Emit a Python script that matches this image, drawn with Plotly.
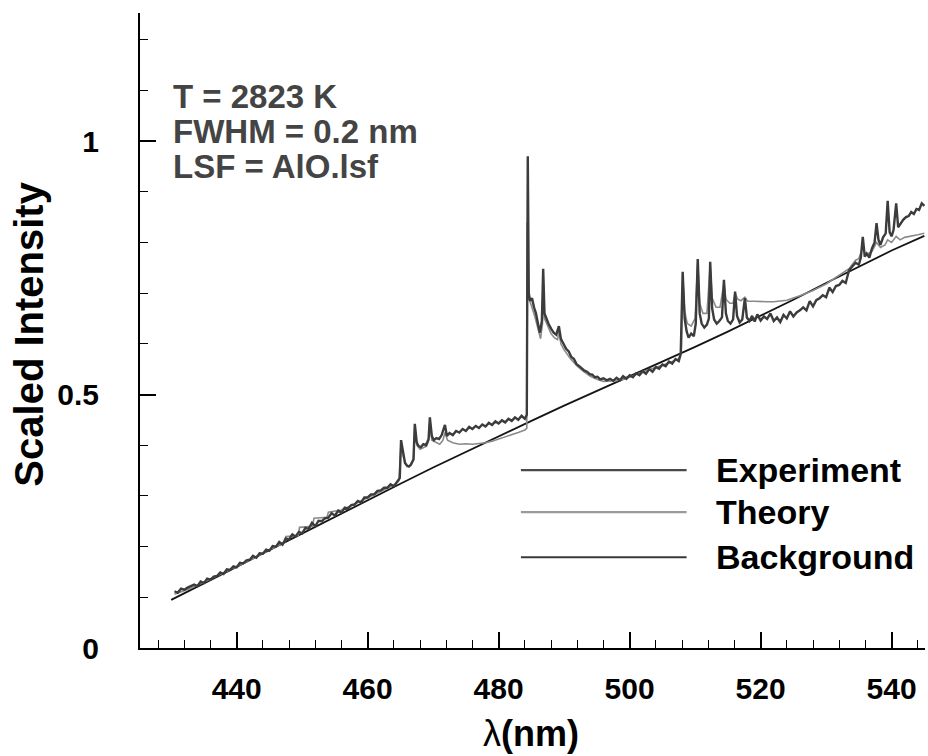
import plotly.graph_objects as go

# ---------------- data ----------------
bg_wl = [430, 435, 440, 445, 450, 455, 460, 465, 470, 475, 480, 485,
         490, 495, 500, 505, 510, 515, 520, 525, 530, 535, 540, 545]
bg_val = [0.095, 0.127, 0.160, 0.193, 0.226, 0.259, 0.292, 0.324, 0.356, 0.387, 0.418, 0.448,
          0.478, 0.507, 0.535, 0.564, 0.594, 0.624, 0.655, 0.687, 0.720, 0.752, 0.784, 0.813]

exp_wl = [
    430.5, 431, 431.5, 432, 432.5, 433, 433.5, 434, 434.5, 435,
    435.5, 436, 436.5, 437, 437.5, 438, 438.5, 439, 439.5, 440,
    440.5, 441, 441.5, 442, 442.5, 443, 443.5, 444, 444.5, 445,
    445.5, 446, 446.5, 447, 447.5, 448, 448.5, 449, 449.5, 450,
    450.5, 451, 451.5, 452, 452.5, 453, 453.5, 454, 454.5, 455,
    455.5, 456, 456.5, 457, 457.5, 458, 458.5, 459, 459.5, 460,
    460.5, 461, 461.5, 462, 462.5, 463, 463.5, 464, 464.5,
    464.9, 465.1, 465.4, 465.7, 466.0, 466.3, 466.6, 467.0, 467.2, 467.5,
    467.8, 468.1, 468.5, 468.9, 469.3, 469.5, 469.8, 470.1, 470.5, 470.9,
    471.3, 471.8, 472.1, 472.5, 473, 473.5, 474, 474.5, 475, 475.5,
    476, 476.5, 477, 477.5, 478, 478.5, 479, 479.5, 480, 480.5,
    481, 481.5, 482, 482.5, 483, 483.5, 484, 484.3,
    484.45, 484.6, 484.8, 485.1, 485.4, 485.7, 486.0, 486.3, 486.6, 486.8,
    487.0, 487.3, 487.6, 488.0, 488.4, 488.8, 489.2, 489.5, 489.9, 490.3,
    490.7, 491.1, 491.5, 491.9, 492.3, 492.7, 493.1, 493.5, 493.9, 494.3,
    494.7, 495.1, 495.5, 496, 496.5, 497, 497.5, 498, 498.5, 499,
    499.5, 500, 500.5, 501, 501.5, 502, 502.5, 503, 503.5, 504,
    504.5, 505, 505.5, 506, 506.5, 507, 507.5, 507.8,
    508.1, 508.4, 508.7, 509.0, 509.4, 509.8, 510.1, 510.4, 510.7, 511.0,
    511.4, 511.8, 512.1, 512.3, 512.6, 512.9, 513.3, 513.7, 514.1, 514.4,
    514.7, 515.0, 515.4, 515.8, 516.1, 516.4, 516.8, 517.2, 517.6, 517.9,
    518.3, 518.7, 519.1, 519.5, 520, 520.5, 521, 521.5, 522, 522.5,
    523, 523.5, 524, 524.5, 525, 525.5, 526, 526.5, 527, 527.5,
    528, 528.5, 529, 529.5, 530, 530.5, 531, 531.5, 532, 532.5,
    533, 533.5, 534, 534.5, 535, 535.3, 535.6, 535.9, 536.2, 536.6,
    537, 537.4, 537.7, 538, 538.3, 538.7, 539.1, 539.4, 539.7, 540,
    540.3, 540.7, 541, 541.4, 541.8, 542.2, 542.6, 543, 543.4, 543.8,
    544.2, 544.6, 545]
exp_val = [
    0.112, 0.109, 0.117, 0.115, 0.119, 0.122, 0.125, 0.122, 0.131, 0.128,
    0.137, 0.135, 0.141, 0.142, 0.149, 0.146, 0.155, 0.154, 0.161, 0.159,
    0.168, 0.167, 0.173, 0.174, 0.182, 0.178, 0.187, 0.186, 0.194, 0.192,
    0.201, 0.200, 0.209, 0.204, 0.216, 0.214, 0.224, 0.220, 0.229, 0.226,
    0.237, 0.235, 0.247, 0.240, 0.251, 0.250, 0.256, 0.257, 0.266, 0.261,
    0.271, 0.267, 0.277, 0.275, 0.282, 0.283, 0.290, 0.287, 0.297, 0.297,
    0.303, 0.303, 0.310, 0.311, 0.316, 0.316, 0.323, 0.319, 0.329,
    0.335, 0.410, 0.385, 0.365, 0.360, 0.358, 0.362, 0.372, 0.442, 0.405,
    0.398, 0.396, 0.402, 0.400, 0.412, 0.455, 0.418, 0.410, 0.414, 0.412,
    0.420, 0.440, 0.418, 0.424, 0.420, 0.428, 0.425, 0.432, 0.428, 0.436,
    0.432, 0.438, 0.434, 0.441, 0.437, 0.444, 0.440, 0.447, 0.443, 0.449,
    0.445, 0.452, 0.448, 0.455, 0.450, 0.458, 0.452, 0.460,
    0.970, 0.700, 0.685, 0.690, 0.672, 0.660, 0.640, 0.622, 0.645, 0.748,
    0.660, 0.648, 0.640, 0.630, 0.622, 0.618, 0.635, 0.610, 0.600, 0.590,
    0.585, 0.574, 0.570, 0.560, 0.556, 0.552, 0.547, 0.545, 0.540, 0.539,
    0.534, 0.535, 0.530, 0.532, 0.528, 0.531, 0.527, 0.533, 0.528, 0.536,
    0.531, 0.538, 0.534, 0.542, 0.538, 0.546, 0.541, 0.550, 0.545, 0.554,
    0.551, 0.559, 0.556, 0.565, 0.561, 0.570, 0.566, 0.580,
    0.742, 0.650, 0.625, 0.612, 0.620, 0.615, 0.640, 0.767, 0.660, 0.640,
    0.632, 0.638, 0.650, 0.762, 0.670, 0.648, 0.640, 0.645, 0.652, 0.726,
    0.660, 0.645, 0.640, 0.648, 0.703, 0.655, 0.642, 0.648, 0.690, 0.652,
    0.645, 0.655, 0.644, 0.658, 0.646, 0.654, 0.649, 0.660, 0.645, 0.652,
    0.643, 0.657, 0.650, 0.664, 0.654, 0.662, 0.666, 0.672, 0.666, 0.684,
    0.674, 0.686, 0.690, 0.696, 0.692, 0.711, 0.702, 0.714, 0.716, 0.724,
    0.720, 0.745, 0.752, 0.760, 0.756, 0.770, 0.811, 0.772, 0.778, 0.770,
    0.788, 0.800, 0.838, 0.805, 0.795, 0.810, 0.818, 0.882, 0.820, 0.812,
    0.825, 0.877, 0.830, 0.838, 0.845, 0.850, 0.852, 0.860, 0.856, 0.866,
    0.864, 0.877, 0.872]

th_wl = [
    430.5, 433, 436, 439, 442, 445, 447.3, 447.5, 449.4, 449.6,
    451.6, 451.8, 453.8, 454, 456, 458, 460, 462, 464, 464.8,
    465.1, 465.5, 466, 466.6, 467, 467.2, 467.5, 468, 469, 469.3,
    469.5, 469.8, 470.5, 471, 471.5, 471.8, 472.2, 473, 474, 475,
    476, 477, 478, 479, 480, 481, 482, 483, 484, 484.3,
    484.35, 484.6, 485, 485.5, 486, 486.4, 486.7, 486.8, 487, 487.5,
    488, 488.5, 489, 489.2, 489.5, 490, 491, 492, 493, 494,
    495, 496, 497, 498, 499, 500, 502, 504, 506, 507.5,
    507.9, 508.1, 508.4, 508.8, 509.4, 510, 510.4, 510.7, 511.2, 511.8,
    512.3, 512.6, 513.2, 513.8, 514.4, 514.7, 515.3, 515.8, 516.1, 516.5,
    517, 517.6, 518, 519, 520, 521, 522, 523, 524, 526,
    528, 530, 532, 533.5, 534.5, 535, 535.6, 536, 537, 537.7,
    538.3, 539, 539.4, 540, 540.7, 541.3, 542, 543, 544, 545]
th_val = [
    0.106, 0.118, 0.136, 0.154, 0.173, 0.193, 0.208, 0.220, 0.222, 0.238,
    0.240, 0.256, 0.258, 0.268, 0.272, 0.284, 0.296, 0.309, 0.321, 0.330,
    0.405, 0.375, 0.358, 0.360, 0.372, 0.435, 0.400, 0.392, 0.398, 0.408,
    0.448, 0.410, 0.405, 0.402, 0.410, 0.425, 0.410, 0.405, 0.402, 0.403,
    0.402, 0.403, 0.405, 0.408, 0.412, 0.416, 0.420, 0.425, 0.430, 0.433,
    0.840, 0.690, 0.675, 0.655, 0.630, 0.610, 0.640, 0.735, 0.650, 0.635,
    0.620, 0.612, 0.608, 0.625, 0.600, 0.588, 0.570, 0.556, 0.545, 0.536,
    0.530, 0.526, 0.526, 0.527, 0.530, 0.534, 0.545, 0.553, 0.562, 0.570,
    0.585, 0.735, 0.665, 0.640, 0.635, 0.650, 0.760, 0.680, 0.660, 0.660,
    0.755, 0.690, 0.672, 0.672, 0.720, 0.688, 0.680, 0.680, 0.700, 0.688,
    0.685, 0.692, 0.684, 0.684, 0.683, 0.683, 0.683, 0.684, 0.686, 0.695,
    0.705, 0.718, 0.735, 0.748, 0.765, 0.768, 0.790, 0.775, 0.782, 0.800,
    0.790, 0.795, 0.805, 0.800, 0.812, 0.805, 0.810, 0.812, 0.815, 0.818]

legend_names = ["Experiment", "Theory", "Background"]
legend_colors = ["#4a4a4a", "#9a9a9a", "#3a3a3a"]
legend_y = [0.351, 0.268, 0.179]
info_lines = ["T = 2823 K", "FWHM = 0.2 nm", "LSF = AlO.lsf"]
info_y = [1.087, 1.018, 0.949]

FONT = "Liberation Sans, Arial, sans-serif"

fig = go.Figure()
fig.add_trace(go.Scatter(x=bg_wl, y=bg_val, mode="lines",
                         line=dict(color="#151515", width=1.8), name="Background"))
fig.add_trace(go.Scatter(x=th_wl, y=th_val, mode="lines",
                         line=dict(color="#8a8a8a", width=1.6), name="Theory"))
fig.add_trace(go.Scatter(x=exp_wl, y=exp_val, mode="lines",
                         line=dict(color="#3c3c3c", width=2.4), name="Experiment"))

# legend drawn as lines + labels
for name, col, yv in zip(legend_names, legend_colors, legend_y):
    fig.add_shape(type="line", xref="x", yref="y", x0=483.4, x1=508.7, y0=yv, y1=yv,
                  line=dict(color=col, width=2.2))
    fig.add_annotation(x=512.9, y=yv, xref="x", yref="y", text="<b>%s</b>" % name,
                       showarrow=False, xanchor="left", yanchor="middle",
                       font=dict(family=FONT, size=34, color="black"))

for txt, yv in zip(info_lines, info_y):
    fig.add_annotation(x=429.9, y=yv, xref="x", yref="y", text="<b>%s</b>" % txt,
                       showarrow=False, xanchor="left", yanchor="middle",
                       font=dict(family=FONT, size=33, color="#444444"))

# axis titles
fig.add_annotation(x=-0.141, y=0.494, xref="paper", yref="paper",
                   text="<b>Scaled Intensity</b>", textangle=-90, showarrow=False,
                   xanchor="center", yanchor="middle",
                   font=dict(family=FONT, size=40, color="black"))
fig.add_annotation(x=0.498, y=-0.134, xref="paper", yref="paper",
                   text="λ<b>(nm)</b>", showarrow=False,
                   xanchor="center", yanchor="middle",
                   font=dict(family=FONT, size=36, color="black"))

fig.update_layout(
    width=928, height=756,
    margin=dict(l=140, r=3, t=13, b=108),
    paper_bgcolor="white", plot_bgcolor="white",
    showlegend=False,
    font=dict(family=FONT, color="black"),
)
fig.update_xaxes(range=[425.24, 545.1], showgrid=False, zeroline=False,
                 showline=True, linecolor="black", linewidth=2,
                 ticks="inside", ticklen=16, tickwidth=2, tickcolor="black",
                 tick0=440, dtick=20, ticklabelstandoff=13,
                 tickfont=dict(family=FONT, size=30, color="black", weight="bold"),
                 minor=dict(ticks="inside", ticklen=8, tickwidth=1.2, tickcolor="black",
                            tick0=440, dtick=4, showgrid=False))
fig.update_yaxes(range=[0, 1.2525], showgrid=False, zeroline=False,
                 showline=True, linecolor="black", linewidth=2,
                 ticks="inside", ticklen=16, tickwidth=2, tickcolor="black",
                 tickvals=[0, 0.5, 1], ticktext=["0", "0.5", "1"], ticklabelstandoff=33,
                 tickfont=dict(family=FONT, size=30, color="black", weight="bold"),
                 minor=dict(ticks="inside", ticklen=8, tickwidth=1.2, tickcolor="black",
                            tick0=0, dtick=0.1, showgrid=False))

fig.write_html("out.html", config={"displayModeBar": False},
               post_script="document.body.style.margin='0px';document.body.style.overflow='hidden';")
